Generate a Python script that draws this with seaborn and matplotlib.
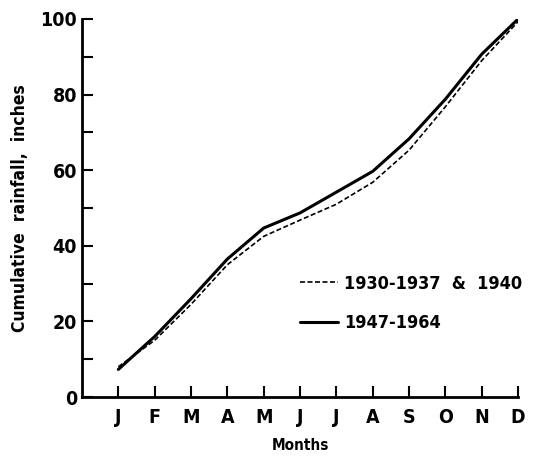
import numpy as np
import pandas as pd
import seaborn as sns
import matplotlib.pyplot as plt
from matplotlib.ticker import MultipleLocator

mesi = ["J", "F", "M", "A", "M", "J", "J", "A", "S", "O", "N", "D"]
serie_1930 = [8, 15, 24.5, 35, 42.5, 46.8, 51, 56.8, 65.3, 76.8, 89, 99.3]
serie_1947 = [7.3, 16, 26, 36.5, 44.7, 48.7, 54.2, 59.7, 68.3, 78.8, 90.7, 100]
etichetta_1930 = "1930-1937  &  1940"
etichetta_1947 = "1947-1964"

sns.set_style("ticks")
plt.rcParams["font.family"] = ["DejaVu Sans"]
plt.rcParams["font.stretch"] = "condensed"
plt.rcParams["font.weight"] = "bold"
plt.rcParams["text.color"] = "black"
plt.rcParams["axes.labelcolor"] = "black"
plt.rcParams["xtick.color"] = "black"
plt.rcParams["ytick.color"] = "black"
plt.rcParams["axes.edgecolor"] = "black"

df = pd.DataFrame({
    "mese": np.arange(1, 13).tolist() * 2,
    "pioggia": serie_1930 + serie_1947,
    "periodo": [etichetta_1930] * 12 + [etichetta_1947] * 12,
})

fig = plt.figure(figsize=(5.38, 4.61), dpi=100)
ax = fig.add_axes([0.1524, 0.1388, 0.8106, 0.8200])
sns.lineplot(data=df, x="mese", y="pioggia", style="periodo", hue="periodo",
             palette=["black", "black"], dashes={etichetta_1930: (3, 1.5), etichetta_1947: ""},
             size="periodo", sizes={etichetta_1930: 1.2, etichetta_1947: 2.2}, ax=ax)

ax.set_xlim(0, 12)
ax.set_ylim(0, 100)
ax.set_xticks(np.arange(1, 13))
ax.set_xticklabels(mesi)
ax.yaxis.set_major_locator(MultipleLocator(20))
ax.yaxis.set_minor_locator(MultipleLocator(10))
ax.tick_params(axis="both", direction="in", width=1.5, labelsize=14, length=8)
ax.tick_params(axis="y", which="minor", direction="in", width=1.5, length=8)
ax.tick_params(axis="x", pad=8)
for s in ["top", "right"]:
    ax.spines[s].set_visible(False)
for s in ["left", "bottom"]:
    ax.spines[s].set_linewidth(2)

ax.set_xlabel("Months", fontsize=11, fontweight="bold", labelpad=8)
ax.set_ylabel("Cumulative  rainfall,  inches", fontsize=12.5, fontweight="bold", labelpad=8)
ax.legend(loc="center left", bbox_to_anchor=(0.5, 0.247), frameon=False, fontsize=13,
          borderaxespad=0, borderpad=0,
          handlelength=2.1, handletextpad=0.35, labelspacing=1.2)

fig.savefig("out.png", dpi=100)
